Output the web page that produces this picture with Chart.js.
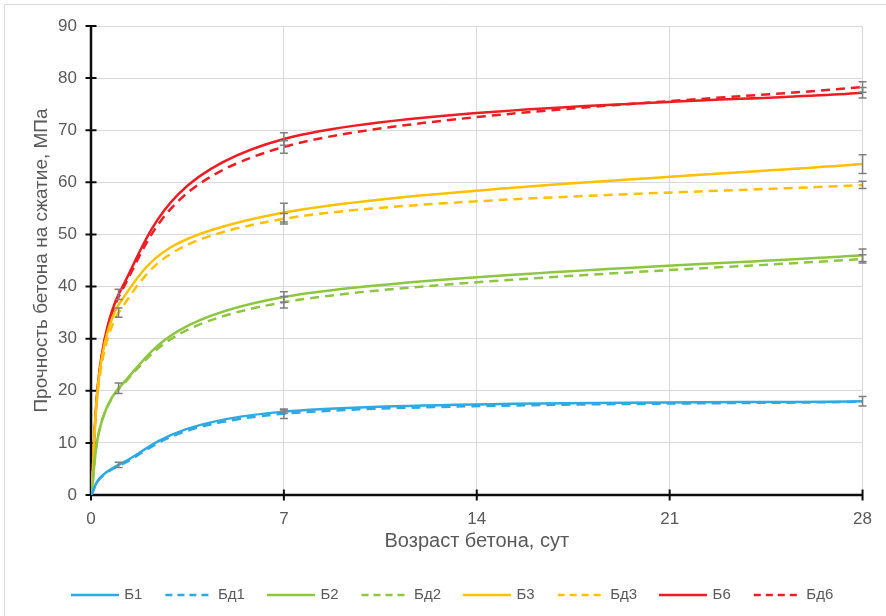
<!DOCTYPE html>
<html>
<head>
<meta charset="utf-8">
<script src="https://cdn.jsdelivr.net/npm/chart.js@4.4.0/dist/chart.umd.min.js"></script>
<style>
  html, body { margin: 0; padding: 0; background: #fff; }
  #wrap { width: 886px; height: 616px; position: relative; }
</style>
</head>
<body>
<div id="wrap"><canvas id="c" width="886" height="616"></canvas></div>
<script>
// Age of concrete, days
const days = [0, 1, 7, 28];
const xTicks = [0, 7, 14, 21, 28];
const yTicks = [0, 10, 20, 30, 40, 50, 60, 70, 80, 90];

// Compressive strength, MPa
const b1  = [0, 5.8, 16.0, 18.0];
const bd1 = [0, 5.6, 15.6, 17.9];
const b2  = [0, 20.5, 38.0, 46.0];
const bd2 = [0, 20.3, 37.0, 45.3];
const b3  = [0, 36.5, 54.2, 63.5];
const bd3 = [0, 35.0, 53.0, 59.5];
const b6  = [0, 38.5, 68.3, 77.2];
const bd6 = [0, 38.0, 66.8, 78.3];

// Scatter of test results (± MPa), null where no bar is shown
const errB1  = [null, 0.5, 0.3, 0.9];
const errBd1 = [null, null, 0.9, null];
const errB2  = [null, 1.0, 1.0, 1.2];
const errBd2 = [null, null, 1.1, 0.8];
const errB3  = [null, null, 1.8, 1.8];
const errBd3 = [null, 0.9, 1.0, 0.7];
const errB6  = [null, 1.0, 1.2, 1.0];
const errBd6 = [null, null, 1.2, 1.0];

const BLUE = '#2EA9E1', GREEN = '#8DC640', YELLOW = '#FFC000', RED = '#EE1D23';
const DASH = [9, 6];
const TXT = '#595959';
const FONT = 'Liberation Sans, Arial, sans-serif';

// Small line swatch used as the legend symbol
function swatch(color, dashed) {
  const c = document.createElement('canvas');
  c.width = 48; c.height = 4;
  const g = c.getContext('2d');
  g.strokeStyle = color;
  g.lineWidth = 2.5;
  g.setLineDash(dashed ? [7, 5] : []);
  g.beginPath();
  g.moveTo(dashed ? 1 : 0, 2); g.lineTo(48, 2);
  g.stroke();
  return c;
}

function series(label, values, errors, color, dashed) {
  return {
    label: label,
    data: days.map((d, i) => ({ x: d, y: values[i] })),
    errors: errors,
    borderColor: color,
    backgroundColor: color,
    borderWidth: 2.5,
    borderDash: dashed ? DASH : [],
    pointRadius: 0,
    pointHoverRadius: 0,
    pointStyle: swatch(color, dashed),
    tension: 0.4,
    fill: false
  };
}

// Catmull-Rom style smoothing: tangent = (next - prev) / 6, clamped to the plot area
const smoothCurve = {
  id: 'smoothCurve',
  beforeDatasetDraw(chart, args) {
    const meta = args.meta;
    const line = meta.dataset;
    const pts = meta.data;
    const a = chart.chartArea;
    line.updateControlPoints(a, meta.iScale.axis);
    const clampX = v => Math.max(a.left, Math.min(a.right, v));
    const clampY = v => Math.max(a.top, Math.min(a.bottom, v));
    for (let i = 0; i < pts.length; i++) {
      const p = pts[i];
      const prev = pts[Math.max(0, i - 1)];
      const next = pts[Math.min(pts.length - 1, i + 1)];
      const tx = (next.x - prev.x) / 6;
      const ty = (next.y - prev.y) / 6;
      p.cp1x = clampX(p.x - tx); p.cp1y = clampY(p.y - ty);
      p.cp2x = clampX(p.x + tx); p.cp2y = clampY(p.y + ty);
    }
    line._path = undefined;
  }
};

// Error bars drawn at each measured point
const errorBars = {
  id: 'errorBars',
  afterDatasetsDraw(chart) {
    const { ctx, scales: { x, y } } = chart;
    ctx.save();
    ctx.strokeStyle = '#7F7F7F';
    ctx.lineWidth = 1.5;
    ctx.setLineDash([]);
    chart.data.datasets.forEach(ds => {
      ds.data.forEach((p, i) => {
        const e = ds.errors[i];
        if (e == null) return;
        const px = x.getPixelForValue(p.x);
        const top = y.getPixelForValue(p.y + e);
        const bot = y.getPixelForValue(p.y - e);
        ctx.beginPath();
        ctx.moveTo(px, top); ctx.lineTo(px, bot);
        ctx.moveTo(px - 4, top); ctx.lineTo(px + 4, top);
        ctx.moveTo(px - 4, bot); ctx.lineTo(px + 4, bot);
        ctx.stroke();
      });
    });
    ctx.restore();
  }
};

// Black axis lines with cross tick marks, plus the frame edge
const axesFrame = {
  id: 'axesFrame',
  beforeDatasetsDraw(chart) {
    const { ctx, chartArea: a, scales: { x, y } } = chart;
    ctx.save();
    ctx.strokeStyle = '#0D0D0D';
    ctx.lineWidth = 2.5;
    const x0 = x.getPixelForValue(0), y0 = y.getPixelForValue(0);
    ctx.beginPath();
    ctx.moveTo(x0, a.top); ctx.lineTo(x0, y0);
    ctx.moveTo(x0, y0); ctx.lineTo(a.right, y0);
    ctx.stroke();
    ctx.lineWidth = 2;
    ctx.beginPath();
    yTicks.forEach(v => { const py = y.getPixelForValue(v); ctx.moveTo(x0 - 5.5, py); ctx.lineTo(x0 + 5.5, py); });
    xTicks.forEach(v => { const px = x.getPixelForValue(v); ctx.moveTo(px, y0 - 5.5); ctx.lineTo(px, y0 + 5.5); });
    ctx.stroke();
    ctx.strokeStyle = '#D9D9D9';
    ctx.lineWidth = 1;
    ctx.beginPath();
    ctx.moveTo(4.5, 616); ctx.lineTo(4.5, 4.5); ctx.lineTo(886, 4.5);
    ctx.stroke();
    ctx.restore();
  }
};

new Chart(document.getElementById('c'), {
  type: 'line',
  data: {
    datasets: [
      series('Б1', b1, errB1, BLUE, false),
      series('Бд1', bd1, errBd1, BLUE, true),
      series('Б2', b2, errB2, GREEN, false),
      series('Бд2', bd2, errBd2, GREEN, true),
      series('Б3', b3, errB3, YELLOW, false),
      series('Бд3', bd3, errBd3, YELLOW, true),
      series('Б6', b6, errB6, RED, false),
      series('Бд6', bd6, errBd6, RED, true)
    ]
  },
  options: {
    responsive: false,
    devicePixelRatio: 1,
    animation: false,
    layout: { padding: { left: 43, right: 23, top: 26, bottom: 3.5 } },
    plugins: {
      tooltip: { enabled: false },
      legend: {
        position: 'bottom',
        labels: {
          usePointStyle: true,
          pointStyleWidth: 44,
          boxHeight: 15,
          padding: 24,
          color: TXT,
          font: { family: FONT, size: 15 }
        }
      }
    },
    scales: {
      x: {
        type: 'linear',
        min: 0, max: 28,
        afterBuildTicks: s => { s.ticks = xTicks.map(v => ({ value: v })); },
        afterFit: s => { s.height = 68.5; },
        grid: { color: '#D9D9D9', lineWidth: 1, drawTicks: false },
        border: { display: false },
        ticks: { color: TXT, padding: 14, font: { family: FONT, size: 17 } },
        title: { display: true, text: 'Возраст бетона, сут', color: TXT, padding: { top: 0, bottom: 10.5 }, font: { family: FONT, size: 20 } }
      },
      y: {
        min: 0, max: 90,
        afterBuildTicks: s => { s.ticks = yTicks.map(v => ({ value: v })); },
        afterFit: s => { s.width = 48; },
        grid: { color: '#D9D9D9', lineWidth: 1, drawTicks: false },
        border: { display: false },
        ticks: { color: TXT, padding: 14, font: { family: FONT, size: 17 } },
        title: { display: true, text: 'Прочность бетона на сжатие, МПа', color: TXT, padding: { top: -12.5, bottom: 0 }, font: { family: FONT, size: 19 } }
      }
    }
  },
  plugins: [axesFrame, smoothCurve, errorBars]
});
</script>
</body>
</html>
